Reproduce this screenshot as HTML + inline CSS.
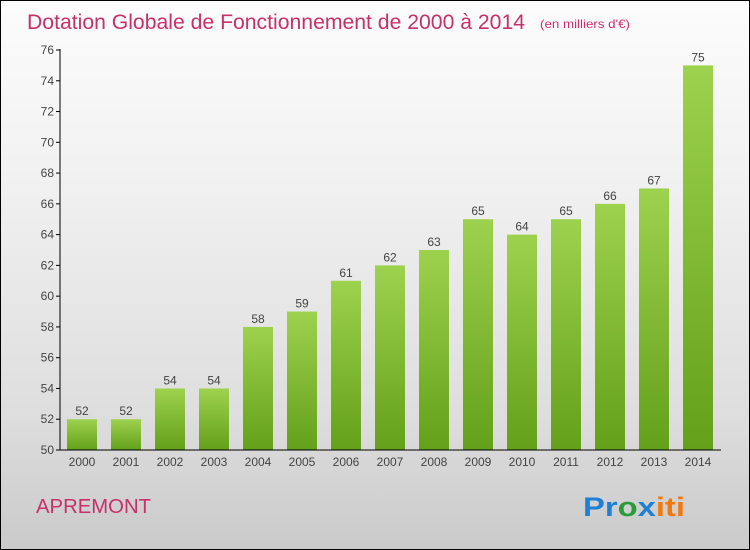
<!DOCTYPE html>
<html><head><meta charset="utf-8"><style>
body{margin:0;width:750px;height:550px;overflow:hidden;font-family:"Liberation Sans",sans-serif}
#frame{position:absolute;left:0;top:0;width:748px;height:548px;border:1px solid #000;background:linear-gradient(#fcfcfc,#f2f2f2 30%,#dedede 75%,#cacaca)}
</style></head><body>
<div id="frame"></div>
<svg id="c" width="750" height="550" style="position:absolute;left:0;top:0">
<defs><linearGradient id="g" x1="0" y1="0" x2="0" y2="1"><stop offset="0" stop-color="#9dd24e"/><stop offset="1" stop-color="#64a01a"/></linearGradient></defs>
<text x="27" y="29" font-size="21" fill="#c8306a" textLength="498" lengthAdjust="spacingAndGlyphs">Dotation Globale de Fonctionnement de 2000 à 2014</text>
<text x="540" y="28" font-size="12" fill="#c8306a" textLength="90" lengthAdjust="spacingAndGlyphs">(en milliers d'€)</text>
<text x="36" y="513" font-size="20" fill="#c8306a" textLength="115" lengthAdjust="spacingAndGlyphs">APREMONT</text>
<text x="583" y="516" font-size="27" font-weight="bold" textLength="102" lengthAdjust="spacingAndGlyphs"><tspan fill="#1e7fd6">Pr</tspan><tspan fill="#2a9a3a">o</tspan><tspan fill="#1e7fd6">x</tspan><tspan fill="#f07a10">iti</tspan></text>
<g id="plot"></g>
</svg>
<script>
const years=["2000","2001","2002","2003","2004","2005","2006","2007","2008","2009","2010","2011","2012","2013","2014"];
const values=[52,52,54,54,58,59,61,62,63,65,64,65,66,67,75];
const yTicks=[50,52,54,56,58,60,62,64,66,68,70,72,74,76];
const ns="http://www.w3.org/2000/svg",p=document.getElementById('plot');
const y=v=>450-(v-50)*400/26, x=i=>82+i*44;
function mk(t,a){const e=document.createElementNS(ns,t);for(const k in a)e.setAttribute(k,a[k]);p.appendChild(e);return e;}
yTicks.forEach(v=>{
 const l=mk('line',{x1:56,x2:60,y1:y(v),y2:y(v),stroke:'#000'});
 
 
 const t=mk('text',{x:54,y:y(v)+4,'text-anchor':'end','font-size':12,fill:'#444'});t.textContent=v;
 
 
});
values.forEach((v,i)=>{
 const r=mk('rect',{x:x(i)-15,y:y(v),width:30,height:450-y(v),fill:'url(#g)'});
 
 
 const t=mk('text',{x:x(i),y:y(v)-4,'text-anchor':'middle','font-size':12,fill:'#444'});t.textContent=v;
 
 
 const c=mk('text',{x:x(i),y:466,'text-anchor':'middle','font-size':12,fill:'#444'});c.textContent=years[i];
 
 
});
const ya=mk('line',{x1:60,x2:60,y1:49,y2:450,stroke:'#000'});


const xa=mk('line',{x1:60,x2:721,y1:450,y2:450,stroke:'#000'});


</script>
</body></html>
